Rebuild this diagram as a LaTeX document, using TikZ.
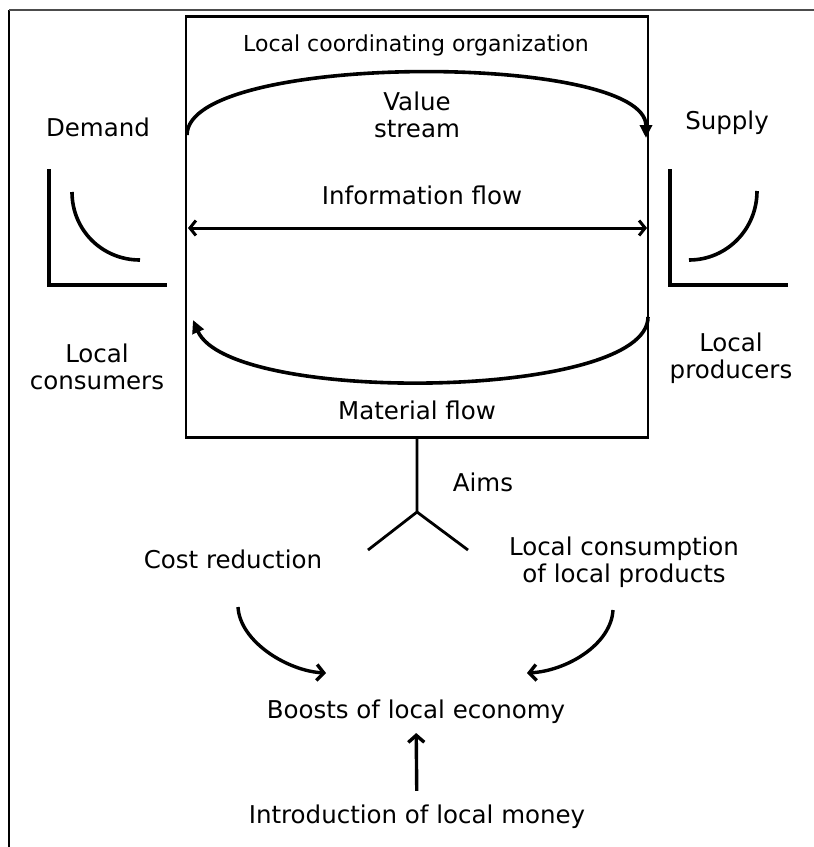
\documentclass[tikz,border=0pt]{standalone}
\usepackage{fontspec}
\setmainfont{DejaVu Sans}
\usetikzlibrary{arrows.meta}
\usetikzlibrary{positioning}

\begin{document}
\begin{tikzpicture}[x=1pt, y=-1pt,
    txt/.style={inner sep=0, align=center, font=\fontsize{24.5}{27}\selectfont},
    flow/.style={line width=3.6pt, -{Triangle[length=13pt, width=12pt]}},
    barb/.style={line width=3.4pt, -{Straight Barb[length=7pt, width=16pt]}},
    axis/.style={line width=3.6pt}]

  \useasboundingbox (0,0) rectangle (814,847);

  % Frame
  \draw[line width=2pt] (9,847) -- (9,10);
  \draw[line width=1.2pt, black!70] (9,10) -- (814,10);

  % Coordinating box
  \node[draw, line width=2.2pt, minimum width=462pt, minimum height=421pt] (org) at (417,227) {};
  \node[txt, font=\fontsize{22}{26}\selectfont] (title) at (416,45) {Local coordinating organization};

  % Value stream
  \coordinate (vs left) at (187,135);
  \coordinate (vs right) at (646,138);
  \draw[flow] (vs left) .. controls (187,52) and (646,52) .. (vs right);
  \node[txt] (value) at (417,115) {Value\\stream};

  % Information flow
  \node[txt] (info) at (422,195) {Information flow};
  \coordinate (if left) at (188,228);
  \coordinate (if right) at (647,228);
  \draw[line width=3pt, {Straight Barb[length=6pt, width=15pt]}-{Straight Barb[length=6pt, width=15pt]}] (if left) -- (if right);

  % Material flow
  \coordinate (mf right) at (648,317);
  \coordinate (mf left) at (193,320);
  \draw[flow] (mf right) .. controls (648,400) and (230,405) .. (mf left);
  \node[txt] (material) at (417,410) {Material flow};

  % Demand side
  \node[txt] (demand) at (98,127) {Demand};
  \draw[axis] (49,169) -- (49,285) -- (167,285);
  \draw[axis] (72,192) .. controls (72,230) and (102,260) .. (140,260);
  \node[txt] (consumers) at (97,367) {Local\\consumers};

  % Supply side
  \node[txt] (supply) at (727,123) {Supply};
  \draw[axis] (670,169) -- (670,285) -- (788,285);
  \draw[axis] (689,260) .. controls (727,260) and (757,229) .. (757,191);
  \node[txt] (producers) at (731,358) {Local\\producers};

  % Aims
  \coordinate (fork) at (417,512);
  \coordinate (fork left) at (368,550);
  \coordinate (fork right) at (468,550);
  \draw[line width=2.8pt] (org.south) -- (fork) -- (fork left);
  \draw[line width=2.8pt] (fork) -- (fork right);
  \node[txt] (aims) at (483,482) {Aims};

  % Outcomes
  \node[txt] (cost) at (233,559) {Cost reduction};
  \node[txt] (consumption) at (624,562) {Local consumption\\of local products};
  \node[txt] (boost) at (416,712) {Boosts of local economy};
  \node[txt] (money) at (417,817) {Introduction of local money};

  \coordinate (cost end) at (238,607);
  \coordinate (boost left) at (326,673);
  \draw[barb] (cost end) .. controls (240,642) and (288,671) .. (boost left);
  \coordinate (consumption end) at (613,610);
  \coordinate (boost right) at (527,673);
  \draw[barb] (consumption end) .. controls (611,645) and (566,671) .. (boost right);
  \draw[barb, shorten <=14pt, shorten >=9pt] (money) -- (boost);

\end{tikzpicture}
\end{document}
